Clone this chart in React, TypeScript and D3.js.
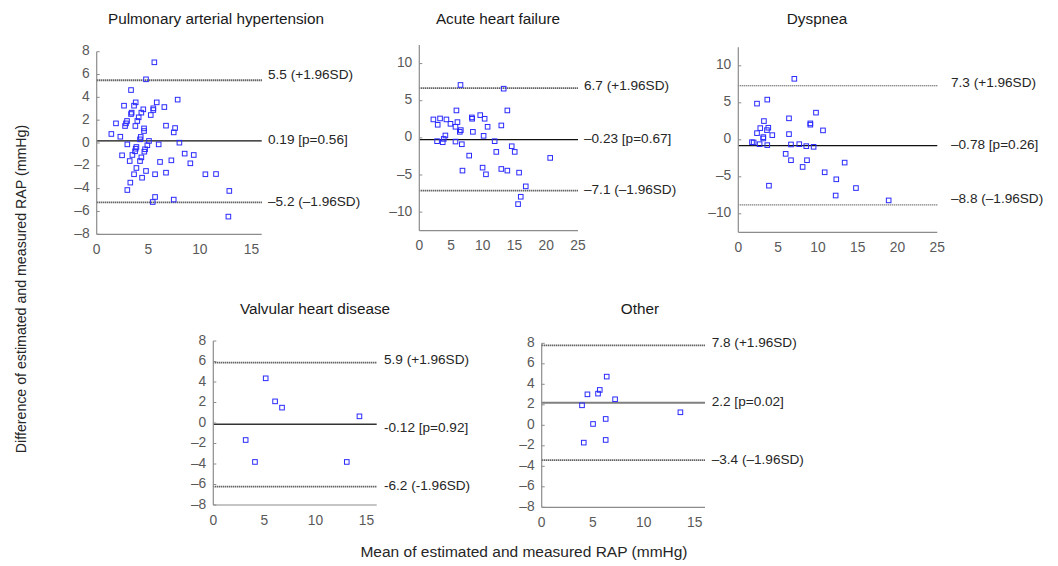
import React from 'react'
import * as d3 from 'd3'

// [mean, difference] pairs
const pahPoints: [number, number][] = [
  [5.59, 7.07], [4.78, 5.58], [3.33, 4.64], [2.65, 3.27], [3.62, 3.27], [3.78, 3.56],
  [5.82, 3.56], [7.85, 3.8], [4.52, 2.95], [5.49, 3.04], [5.49, 2.89], [6.56, 3.15],
  [3.39, 2.66], [3.33, 2.54], [4.33, 2.66], [5.24, 2.45], [4.07, 2.25], [1.87, 1.72],
  [2.94, 1.93], [2.84, 1.72], [3.94, 1.93], [2.75, 1.49], [3.75, 1.49], [4.59, 1.28],
  [4.59, 1.05], [6.72, 1.52], [7.6, 1.31], [7.47, 0.93], [1.42, 0.79], [2.29, 0.55],
  [4.27, 0.53], [4.2, 0.32], [5.07, 0.18], [8.02, 0.03], [2.97, -0.12], [4.91, -0.2],
  [6.01, -0.12], [3.85, -0.35], [3.78, -0.5], [4.69, -0.55], [4.62, -0.76], [3.72, -0.73],
  [2.46, -1.08], [3.46, -1.05], [4.33, -1.26], [8.53, -0.93], [9.41, -1.05], [3.2, -1.58],
  [4.2, -1.58], [6.14, -1.66], [7.24, -1.52], [9.08, -1.78], [3.85, -2.19], [4.78, -2.45],
  [3.62, -2.74], [5.66, -2.74], [6.72, -2.6], [10.54, -2.74], [11.57, -2.72], [4.4, -3.04],
  [3.26, -3.47], [2.97, -4.12], [12.86, -4.2], [5.66, -4.73], [5.43, -5.17], [7.47, -4.96],
  [12.77, -6.45],
]
const ahfPoints: [number, number][] = [
  [6.49, 7.12], [13.29, 6.62], [5.85, 3.69], [13.87, 3.69], [2.22, 2.48], [3.27, 2.61],
  [4.27, 2.48], [2.9, 1.76], [4.91, 1.89], [6.01, 2.12], [5.7, 1.49], [6.54, 1.04],
  [6.38, 0.81], [8.28, 2.75], [8.33, 2.57], [9.6, 3.06], [10.29, 2.57], [10.76, 1.49],
  [12.92, 1.67], [8.44, 0.81], [10.13, 0.27], [4.11, 0.32], [3.85, -0.14], [2.8, -0.45],
  [3.69, -0.59], [5.7, -0.5], [6.7, -0.86], [11.87, -0.45], [14.56, -1.13], [12.13, -1.89],
  [15.03, -1.89], [7.86, -2.39], [20.62, -2.7], [6.8, -4.41], [9.97, -4.01], [10.5, -4.91],
  [12.92, -4.19], [13.87, -4.41], [15.72, -4.68], [16.77, -6.53], [15.98, -7.93], [15.56, -8.92],
]
const dysPoints: [number, number][] = [
  [7.04, 8.24], [2.35, 4.89], [3.64, 5.43], [6.37, 2.9], [9.76, 3.67], [3.22, 2.53],
  [9.05, 2.22], [9.05, 2.04], [2.76, 1.58], [3.77, 1.63], [3.6, 1.31], [2.35, 0.9],
  [6.37, 0.77], [10.64, 1.27], [3.14, 0.36], [3.14, 0.18], [4.27, 0.63], [1.72, -0.32],
  [1.93, -0.36], [2.68, -0.59], [3.64, -0.72], [6.62, -0.63], [7.66, -0.59], [8.54, -0.86],
  [9.46, -0.95], [5.95, -1.9], [6.62, -2.76], [8.63, -2.76], [8.08, -3.67], [13.36, -3.08],
  [10.85, -4.39], [12.31, -5.34], [3.85, -6.2], [14.78, -6.52], [12.23, -7.53], [18.89, -8.19],
]
const vhdPoints: [number, number][] = [
  [5.13, 4.36], [6.05, 2.11], [6.73, 1.5], [14.31, 0.65], [3.17, -1.66], [4.08, -3.8], [13.07, -3.8],
]
const otherPoints: [number, number][] = [
  [6.37, 4.75], [5.69, 3.45], [4.48, 3.02], [5.52, 3.09], [7.19, 2.54], [3.95, 1.95],
  [13.59, 1.27], [6.27, 0.62], [5.03, 0.13], [4.12, -1.69], [6.27, -1.43],
]

// upper limit, mean bias, lower limit
const pahLimits = [5.5, 0.19, -5.2]
const ahfLimits = [6.7, -0.23, -7.1]
const dysLimits = [7.3, -0.78, -8.8]
const vhdLimits = [5.9, -0.12, -6.2]
const otherLimits = [7.8, 2.2, -3.4]

const pahLabels = ['5.5 (+1.96SD)', '0.19 [p=0.56]', '\u20135.2 (\u20131.96SD)']
const ahfLabels = ['6.7 (+1.96SD)', '\u20130.23 [p=0.67]', '\u20137.1 (\u20131.96SD)']
const dysLabels = ['7.3 (+1.96SD)', '\u20130.78 [p=0.26]', '\u20138.8 (\u20131.96SD)']
const vhdLabels = ['5.9 (+1.96SD)', '-0.12 [p=0.92]', '-6.2 (-1.96SD)']
const otherLabels = ['7.8 (+1.96SD)', '2.2 [p=0.02]', '\u20133.4 (\u20131.96SD)']

const titles = ['Pulmonary arterial hypertension', 'Acute heart failure', 'Dyspnea', 'Valvular heart disease', 'Other']

const smallYTicks = [-8, -6, -4, -2, 0, 2, 4, 6, 8]
const largeYTicks = [-10, -5, 0, 5, 10]
const smallXTicks = [0, 5, 10, 15]
const largeXTicks = [0, 5, 10, 15, 20, 25]

const fmt = (v: number) => (v < 0 ? '\u2013' + Math.abs(v) : String(v))

type Panel = {
  title: string
  points: [number, number][]
  limits: number[]
  labels: string[]
  x0: number; x1: number; xMax: number
  y0: number; y1: number; yMax: number
  xTicks: number[]; yTicks: number[]
  labelX: number
  labelShift: number[]
  tx: number; ty: number
  meanColor: string; meanWidth: number; dotWidth: number
}

const panels: Panel[] = [
  { title: titles[0], points: pahPoints, limits: pahLimits, labels: pahLabels,
    x0: 96.7, x1: 261.7, xMax: 16, y0: 51.7, y1: 234.3, yMax: 8,
    xTicks: smallXTicks, yTicks: smallYTicks, labelX: 268, labelShift: [-5, 0, 0], tx: 216, ty: 20,
    meanColor: '#111', meanWidth: 1.2, dotWidth: 1.8 },
  { title: titles[1], points: ahfPoints, limits: ahfLimits, labels: ahfLabels,
    x0: 419.3, x1: 578, xMax: 25, y0: 45, y1: 230.7, yMax: 12.5,
    xTicks: largeXTicks, yTicks: largeYTicks, labelX: 584, labelShift: [-2, 0, 0], tx: 498, ty: 20,
    meanColor: '#111', meanWidth: 1.2, dotWidth: 1.8 },
  { title: titles[2], points: dysPoints, limits: dysLimits, labels: dysLabels,
    x0: 738.3, x1: 937.3, xMax: 25, y0: 47.3, y1: 232.3, yMax: 12.5,
    xTicks: largeXTicks, yTicks: largeYTicks, labelX: 951, labelShift: [-2, 0, -6], tx: 817, ty: 20,
    meanColor: '#111', meanWidth: 1.2, dotWidth: 1 },
  { title: titles[3], points: vhdPoints, limits: vhdLimits, labels: vhdLabels,
    x0: 213.3, x1: 376.7, xMax: 16, y0: 341, y1: 505, yMax: 8,
    xTicks: smallXTicks, yTicks: smallYTicks, labelX: 384, labelShift: [-2, 4, 0], tx: 315, ty: 310,
    meanColor: '#333', meanWidth: 1.5, dotWidth: 1.8 },
  { title: titles[4], points: otherPoints, limits: otherLimits, labels: otherLabels,
    x0: 541.7, x1: 705, xMax: 16, y0: 343.3, y1: 507.3, yMax: 8,
    xTicks: smallXTicks, yTicks: smallYTicks, labelX: 711.7, labelShift: [-2, 0, 0], tx: 640, ty: 310,
    meanColor: '#7f7f7f', meanWidth: 2, dotWidth: 1.8 },
]

const font = 'Arial, "Liberation Sans", sans-serif'

function BlandAltman({ p }: { p: Panel }) {
  const x = d3.scaleLinear().domain([0, p.xMax]).range([p.x0, p.x1])
  const y = d3.scaleLinear().domain([-p.yMax, p.yMax]).range([p.y1, p.y0])
  const s = 4.6
  return (
    <g>
      <text x={p.tx} y={p.ty} textAnchor="middle" dominantBaseline="middle"
        fontSize={15.3} fill="#1a1a1a">{p.title}</text>
      {/* limit lines */}
      {p.limits.map((v, i) => (
        <line key={'l' + i} x1={p.x0} x2={p.x1} y1={y(v)} y2={y(v)}
          stroke={i === 1 ? p.meanColor : '#222'}
          strokeWidth={i === 1 ? p.meanWidth : p.dotWidth}
          strokeDasharray={i === 1 ? undefined : '1,1'} />
      ))}
      {p.labels.map((t, i) => (
        <text key={'t' + i} x={p.labelX} y={y(p.limits[i]) + p.labelShift[i]} dominantBaseline="middle"
          fontSize={13.6} fill="#262626">{t}</text>
      ))}
      {/* axes */}
      <line x1={p.x0} x2={p.x0} y1={p.y0} y2={p.y1} stroke="#8c8c8c" strokeWidth={1.2} />
      <line x1={p.x0} x2={p.x1} y1={p.y1} y2={p.y1} stroke="#8c8c8c" strokeWidth={1.2} />
      {p.yTicks.map(v => (
        <g key={'y' + v}>
          <line x1={p.x0} x2={p.x0 + 3} y1={y(v)} y2={y(v)} stroke="#8c8c8c" />
          <text x={p.x0 - 7} y={y(v)} textAnchor="end" dominantBaseline="middle"
            fontSize={13.8} fill="#595959">{fmt(v)}</text>
        </g>
      ))}
      {p.xTicks.map(v => (
        <text key={'x' + v} x={x(v)} y={p.y1 + 16} textAnchor="middle" dominantBaseline="middle"
          fontSize={13.8} fill="#595959">{v}</text>
      ))}
      {p.points.map((d, i) => (
        <rect key={'p' + i} x={x(d[0]) - s / 2} y={y(d[1]) - s / 2} width={s} height={s}
          fill="none" stroke="#2a2aff" strokeWidth={1} />
      ))}
    </g>
  )
}

export default function App() {
  return (
    <svg width={1058} height={566} style={{ position: 'absolute', left: 0, top: 0, background: '#fff' }}
      fontFamily={font}>
      {panels.map((p, i) => <BlandAltman key={i} p={p} />)}
      <text transform="translate(22,289) rotate(-90)" textAnchor="middle" dominantBaseline="middle"
        fontSize={14.2} fill="#262626">Difference of estimated and measured RAP (mmHg)</text>
      <text x={524} y={553} textAnchor="middle" dominantBaseline="middle"
        fontSize={15.5} fill="#262626">Mean of estimated and measured RAP (mmHg)</text>
    </svg>
  )
}
